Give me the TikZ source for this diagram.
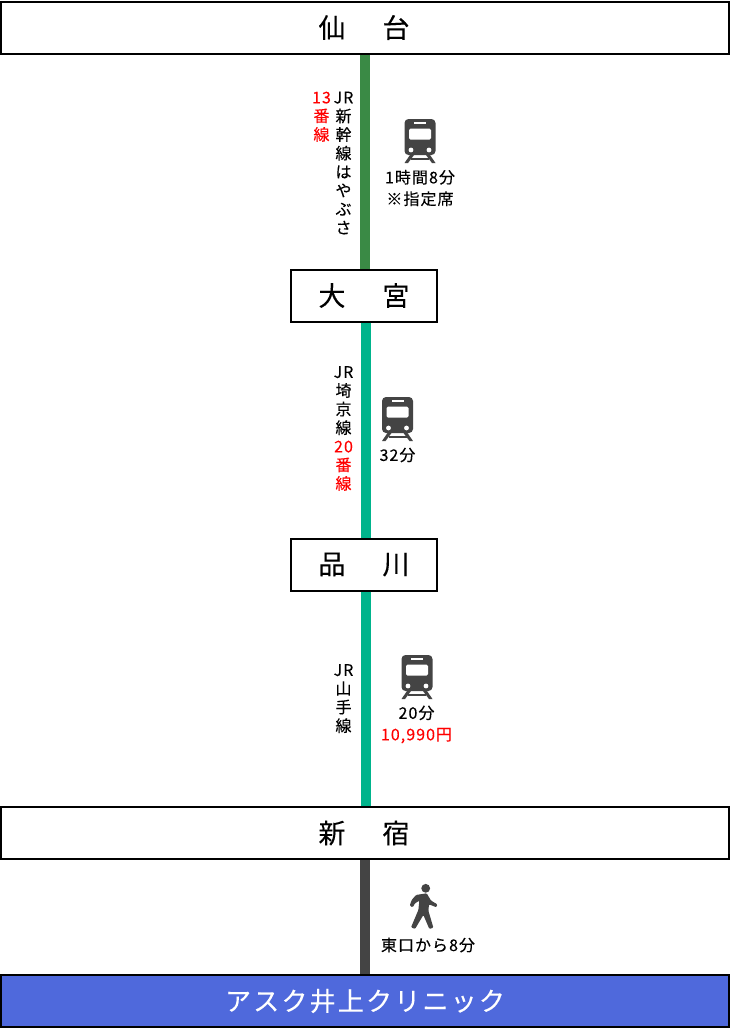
\documentclass[tikz,border=0pt]{standalone}
\usepackage{fontspec}
\setmainfont{Noto Sans CJK JP}
\newfontfamily\smallf[LetterSpace=6.5,FakeBold=0.25]{Noto Sans CJK JP}
\newfontfamily\bigf[LetterSpace=18.5,FakeBold=0.2]{Noto Sans CJK JP}
\newfontfamily\clinicf[LetterSpace=8.5,FakeBold=0.2]{Noto Sans CJK JP}
\definecolor{shink}{HTML}{3A8A45}
\definecolor{jrteal}{HTML}{00B48C}
\definecolor{walk}{HTML}{444444}
\definecolor{clinicblue}{HTML}{4F69DC}
\definecolor{jrred}{HTML}{FF0000}
\tikzset{
  station/.style={draw=black,line width=2pt,fill=white,inner sep=0pt,font=\bigf\fontsize{27}{27}\selectfont},
  wide/.style={station,minimum width=728pt,minimum height=52pt},
  mid/.style={station,minimum width=146pt,minimum height=52pt},
  clinic/.style={wide,fill=clinicblue,text=white,font=\clinicf\fontsize{26}{26}\selectfont},
  routeline/.style={line width=10pt},
  lbl/.style={inner sep=0pt,align=center,font=\smallf\fontsize{16}{21.5}\selectfont},
  vlbl/.style={inner sep=0pt,align=center,anchor=north,font=\smallf\fontsize{16}{18.6}\selectfont},
  pics/train/.style={code={
    \fill[walk,rounded corners=4pt] (-15.5,0) rectangle (15.5,36);
    \fill[white,rounded corners=1.5pt] (-11,9.5) rectangle (11,20.5);
    \fill[white] (-6,3.3) rectangle (6,5);
    \fill[white] (-9,31) circle (2.4pt) (9,31) circle (2.4pt);
    \fill[walk] (-10,36) -- (-15.5,44) -- (-12,44) -- (-6,36) -- cycle;
    \fill[walk] (10,36) -- (15.5,44) -- (12,44) -- (6,36) -- cycle;
    \fill[walk] (-9,39) rectangle (9,40.8);
  }},
  pics/walker/.style={code={
    \fill[walk] (0,0) circle (4.4pt);
    \begin{scope}[x=.3333pt,y=-.3333pt,shift={(-197,-55)}]
      \fill[walk,rounded corners=1pt] (168,75) -- (200,70) -- (213,92) -- (232,103) -- (229,112) -- (207,103)
        -- (205,122) -- (220,173) -- (208,177) -- (190,135) -- (165,177) -- (153,172) -- (175,120)
        -- (178,92) -- (165,100) -- (158,112) -- (149,107) -- (155,90) -- cycle;
    \end{scope}
  }}
}
\begin{document}
\begin{tikzpicture}[x=1pt,y=-1pt]
\useasboundingbox (0,0) rectangle (730,1029);
\fill[white] (0,0) rectangle (730,1029);
\node[wide]   (sendai)    at (365,27.5)  {\raisebox{-1.5pt}{仙　台}\kern2pt};
\node[mid]    (omiya)     at (364,295.5) {\raisebox{-1.5pt}{大　宮}};
\node[mid]    (shinagawa) at (364,564.5) {\raisebox{-1.5pt}{品　川}};
\node[wide]   (shinjuku)  at (365,833)   {\raisebox{-1.5pt}{新　宿}\kern2pt};
\node[clinic] (ask)       at (365,1001)  {アスク井上クリニック};
\draw[routeline,shink]  (sendai.south) -- ([xshift=1pt]omiya.north);
\draw[routeline,jrteal] ([xshift=2pt]omiya.south) -- ([xshift=2pt]shinagawa.north);
\draw[routeline,jrteal] ([xshift=2pt]shinagawa.south) -- ([xshift=1pt]shinjuku.north);
\draw[routeline,walk]   (shinjuku.south) -- (ask.north);
% route labels
\node[vlbl] (r1) at (343.5,91.5) {JR\\新\\幹\\線\\は\\や\\ぶ\\さ};
\node[vlbl,text=jrred] (r1b) at (321.5,91.5) {13\\番\\線};
\node[vlbl] (r2) at (343.5,366) {JR\\埼\\京\\線\\\textcolor{jrred}{20}\\\textcolor{jrred}{番}\\\textcolor{jrred}{線}};
\node[vlbl] (r3) at (343.5,664) {JR\\山\\手\\線};
% icons
\pic at (420,119) {train};
\pic at (397.5,397) {train};
\pic at (417,655) {train};
\pic at (425.7,888.3) {walker};
% times
\node[lbl] (t1) at (420,188) {1時間8分\\※指定席};
\node[lbl] (t2) at (397.5,455) {32分};
\node[lbl] (t3) at (416.5,724.5) {20分\\\textcolor{jrred}{10,990円}};
\node[lbl] (t4) at (428,945) {東口から8分};
\end{tikzpicture}
\end{document}
